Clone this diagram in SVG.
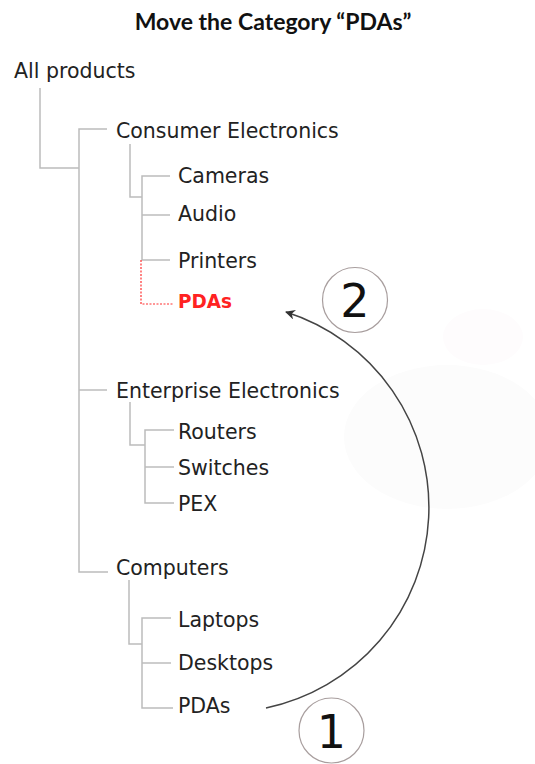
<svg xmlns="http://www.w3.org/2000/svg" width="535" height="764" viewBox="0 0 535 764">
<style>
.t{font-family:"DejaVu Sans",Verdana,sans-serif;font-size:20.5px;fill:#222}
.sel{font-family:"DejaVu Sans",Verdana,sans-serif;font-size:20px;font-weight:bold;fill:#ff2222}
.title{font-family:Lato,"Open Sans",sans-serif;font-size:23px;font-weight:bold;fill:#111}
.ln{fill:none;stroke:#bcbcbc;stroke-width:1.5}
.red{fill:none;stroke:#ff3030;stroke-width:1.2;stroke-dasharray:2 1.5}
.num{font-family:"DejaVu Sans",sans-serif;font-size:46px;fill:#111;text-anchor:middle}
.badge{fill:#fff;stroke:#a89e9e;stroke-width:1.2}
</style>
<defs>
<marker id="ah" viewBox="0 0 10 10" refX="9" refY="5" markerWidth="10" markerHeight="10" markerUnits="userSpaceOnUse" orient="auto">
<path d="M0,0 L10,5 L0,10 L3,5 z" fill="#333"/>
</marker>
</defs>
<rect width="535" height="764" fill="#fff"/>
<ellipse cx="483" cy="337" rx="40" ry="28" fill="#fefcfd"/>
<ellipse cx="447" cy="437" rx="103" ry="72" fill="#fcfcfc"/>
<text id="title" class="title" x="273" y="30" text-anchor="middle">Move the Category “PDAs”</text>
<g id="connectors">
<path class="ln" d="M40,88 V168 H79"/>
<path class="ln" d="M107,129 H79 V572 H108"/>
<path class="ln" d="M79,390 H107"/>
<path class="ln" d="M130,144 V197 H142"/>
<path class="ln" d="M170,176 H142 V260 H170"/>
<path class="ln" d="M142,215 H170"/>
<path class="red" d="M141,260 V304 H173"/>
<path class="ln" d="M130,402 V445 H145"/>
<path class="ln" d="M174,430 H145 V503 H174"/>
<path class="ln" d="M145,467 H174"/>
<path class="ln" d="M129,580 V644 H142"/>
<path class="ln" d="M171,618 H142 V708 H173"/>
<path class="ln" d="M142,663 H171"/>
<path id="move" d="M266,708 A205,205 0 0 0 286,312" fill="none" stroke="#444" stroke-width="1.5" marker-end="url(#ah)"/>
</g>
<g id="n-all"><text class="t" x="14" y="78">All products</text></g>
<g id="n-consumer"><text class="t" x="116" y="138">Consumer Electronics</text></g>
<g id="n-cameras"><text class="t" x="178" y="183">Cameras</text></g>
<g id="n-audio"><text class="t" x="178" y="221">Audio</text></g>
<g id="n-printers"><text class="t" x="178" y="268">Printers</text></g>
<g id="n-pdas-new"><text class="sel" x="178" y="308" textLength="54" lengthAdjust="spacingAndGlyphs">PDAs</text></g>
<g id="n-enterprise"><text class="t" x="116" y="398">Enterprise Electronics</text></g>
<g id="n-routers"><text class="t" x="178" y="439">Routers</text></g>
<g id="n-switches"><text class="t" x="178" y="475">Switches</text></g>
<g id="n-pex"><text class="t" x="178" y="511">PEX</text></g>
<g id="n-computers"><text class="t" x="116" y="575">Computers</text></g>
<g id="n-laptops"><text class="t" x="178" y="627">Laptops</text></g>
<g id="n-desktops"><text class="t" x="178" y="670">Desktops</text></g>
<g id="n-pdas-old"><text class="t" x="178" y="713">PDAs</text></g>
<g id="step2"><circle class="badge" cx="355" cy="300" r="32.5"/><text class="num" x="355" y="317">2</text></g>
<g id="step1"><circle class="badge" cx="331.5" cy="730.5" r="32.5"/><text class="num" x="331.5" y="748">1</text></g>
</svg>
